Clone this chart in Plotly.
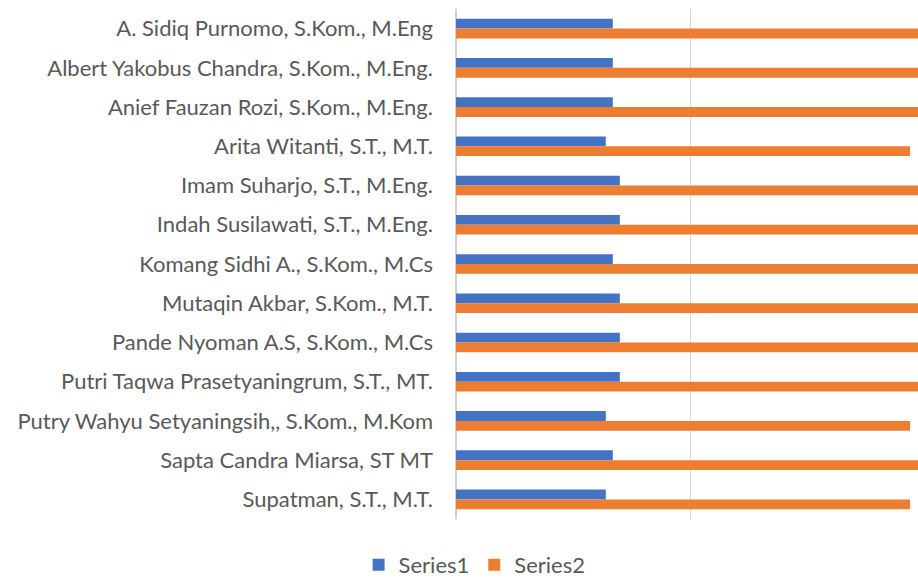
import plotly.graph_objects as go

categories = [
    "A. Sidiq Purnomo, S.Kom., M.Eng",
    "Albert Yakobus Chandra, S.Kom., M.Eng.",
    "Anief Fauzan Rozi, S.Kom., M.Eng.",
    "Arita Witanti, S.T., M.T.",
    "Imam Suharjo, S.T., M.Eng.",
    "Indah Susilawati, S.T., M.Eng.",
    "Komang Sidhi A., S.Kom., M.Cs",
    "Mutaqin Akbar, S.Kom., M.T.",
    "Pande Nyoman A.S, S.Kom., M.Cs",
    "Putri Taqwa Prasetyaningrum, S.T., MT.",
    "Putry Wahyu Setyaningsih,, S.Kom., M.Kom",
    "Sapta Candra Miarsa, ST MT",
    "Supatman, S.T., M.T.",
]
series1 = [3.35, 3.35, 3.35, 3.2, 3.5, 3.5, 3.35, 3.5, 3.5, 3.5, 3.2, 3.35, 3.2]
series2 = [10, 10, 10, 9.7, 10, 10, 10, 10, 10, 10, 9.7, 10, 9.7]

font_family = "Lato, 'Open Sans', sans-serif"
label_color = "#595959"

fig = go.Figure()
fig.add_trace(go.Bar(name="Series1", y=categories, x=series1, orientation="h",
                     marker=dict(color="#4472C4", line=dict(width=0))))
fig.add_trace(go.Bar(name="Series2", y=categories, x=series2, orientation="h",
                     marker=dict(color="#ED7D31", line=dict(width=0))))

fig.update_layout(
    width=918, height=586,
    margin=dict(l=456, r=0, t=9, b=67),
    barmode="group", bargap=0.5, bargroupgap=0,
    plot_bgcolor="white", paper_bgcolor="white",
    font=dict(family=font_family, size=22, color=label_color),
    legend=dict(orientation="h", xref="container", yref="container",
                x=0.517, xanchor="center", y=0.0, yanchor="bottom",
                font=dict(size=22, color=label_color), itemwidth=30,
                traceorder="normal"),
    showlegend=True,
)
fig.update_xaxes(range=[0, 9.87], dtick=5, showticklabels=False,
                 showgrid=True, gridcolor="#d9d9d9", gridwidth=1,
                 zeroline=True, zerolinecolor="#d0d0d0", zerolinewidth=1.5)
fig.update_yaxes(autorange="reversed", showgrid=False, ticklabelstandoff=22,
                 tickfont=dict(size=22, color=label_color))

fig.write_html("out.html", config={"displayModeBar": False},
               post_script="document.body.style.margin='0';document.body.style.overflow='hidden';")
